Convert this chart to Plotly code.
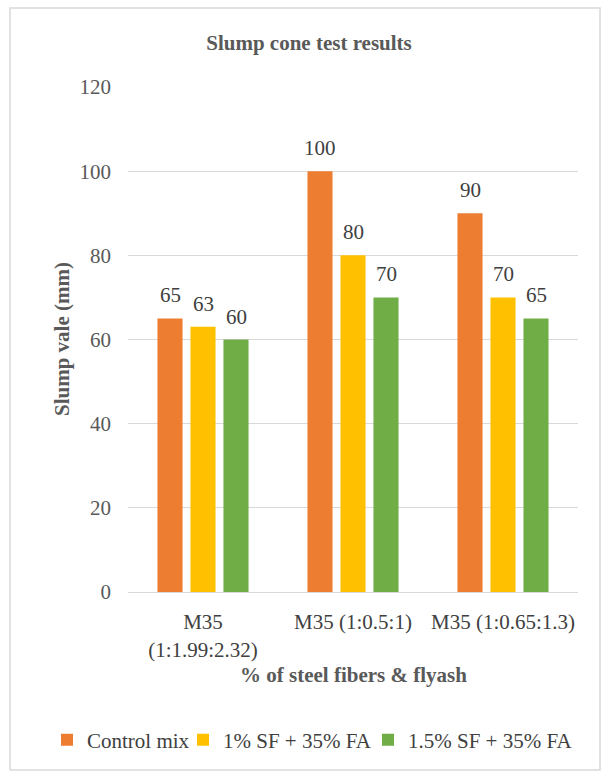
import plotly.graph_objects as go

# Mix designs on the category axis
categories = ["M35 (1:1.99:2.32)", "M35 (1:0.5:1)", "M35 (1:0.65:1.3)"]
tick_labels = ["M35<br>(1:1.99:2.32)", "M35 (1:0.5:1)", "M35 (1:0.65:1.3)"]

# Slump values (mm) per series
control_mix = [65, 100, 90]
sf1_fa35 = [63, 80, 70]
sf15_fa35 = [60, 70, 65]

series_names = ["Control mix", "1% SF + 35% FA", "1.5% SF + 35% FA"]
series_values = [control_mix, sf1_fa35, sf15_fa35]
series_colors = ["#ED7D31", "#FFC000", "#70AD47"]
legend_widths = [91, 140, 172]

W, H = 608, 776
ML, MR, MT, MB = 128, 30, 87, 184
PW, PH = W - ML - MR, H - MT - MB

FONT = "Liberation Serif, Times New Roman, serif"
FS = 21
GREY = "#595959"
LABEL = "#404040"
BARGAP = 0.34


def px_x(x):
    return (x - ML) / PW


def px_y(y):
    return (H - MB - y) / PH


fig = go.Figure()
for name, vals, col, lw in zip(series_names, series_values, series_colors, legend_widths):
    fig.add_trace(go.Bar(
        x=categories, y=vals, name=name, legendwidth=lw,
        marker=dict(color=col, line=dict(width=0)),
    ))

# Value labels above each bar
slot = (1 - BARGAP) / len(series_values)
for k, vals in enumerate(series_values):
    off = (k - (len(series_values) - 1) / 2) * slot
    for i, v in enumerate(vals):
        fig.add_annotation(x=i + off, y=v, text=str(v), showarrow=False, yanchor="bottom",
                           yshift=9, font=dict(family=FONT, size=FS, color=LABEL))

fig.update_layout(
    width=W, height=H,
    margin=dict(l=ML, r=MR, t=MT, b=MB),
    paper_bgcolor="white", plot_bgcolor="white",
    barmode="group", bargap=BARGAP, bargroupgap=0.24,
    font=dict(family=FONT, color=GREY),
    title=dict(text="<b>Slump cone test results</b>", x=309 / W, xref="container",
               y=1 - 43 / H, yref="container", yanchor="middle", xanchor="center",
               font=dict(family=FONT, size=FS, color=GREY)),
    showlegend=True,
    legend=dict(orientation="h", xref="paper", yref="paper", x=px_x(47), xanchor="left",
                y=px_y(740), yanchor="middle",
                font=dict(family=FONT, size=FS, color=LABEL), itemwidth=30,
                traceorder="normal"),
)

fig.update_yaxes(range=[0, 120], dtick=20, showgrid=True, gridcolor="#D9D9D9", gridwidth=1,
                 zeroline=False, showline=False, ticks="", ticklabelstandoff=16,
                 tickfont=dict(family=FONT, size=FS, color=GREY))
fig.update_xaxes(tickvals=categories, ticktext=tick_labels, showline=True, linecolor="#D9D9D9",
                 linewidth=1, ticks="", ticklabelstandoff=11,
                 tickfont=dict(family=FONT, size=FS, color=LABEL))

# Axis titles
fig.add_annotation(text="<b>Slump vale (mm)</b>", x=px_x(62), y=px_y(339), xref="paper", yref="paper",
                   textangle=-90, showarrow=False, font=dict(family=FONT, size=FS, color=GREY),
                   xanchor="center", yanchor="middle")
fig.add_annotation(text="<b>% of steel fibers & flyash</b>", x=px_x(353), y=px_y(675), xref="paper",
                   yref="paper", showarrow=False, font=dict(family=FONT, size=FS, color=GREY),
                   xanchor="center", yanchor="middle")

# Chart frame
fig.add_shape(type="rect", xref="paper", yref="paper", x0=px_x(10), x1=px_x(600), y0=px_y(770),
              y1=px_y(8), line=dict(color="#D9D9D9", width=1.5), fillcolor="rgba(0,0,0,0)", layer="below")

fig.write_html("out.html")
